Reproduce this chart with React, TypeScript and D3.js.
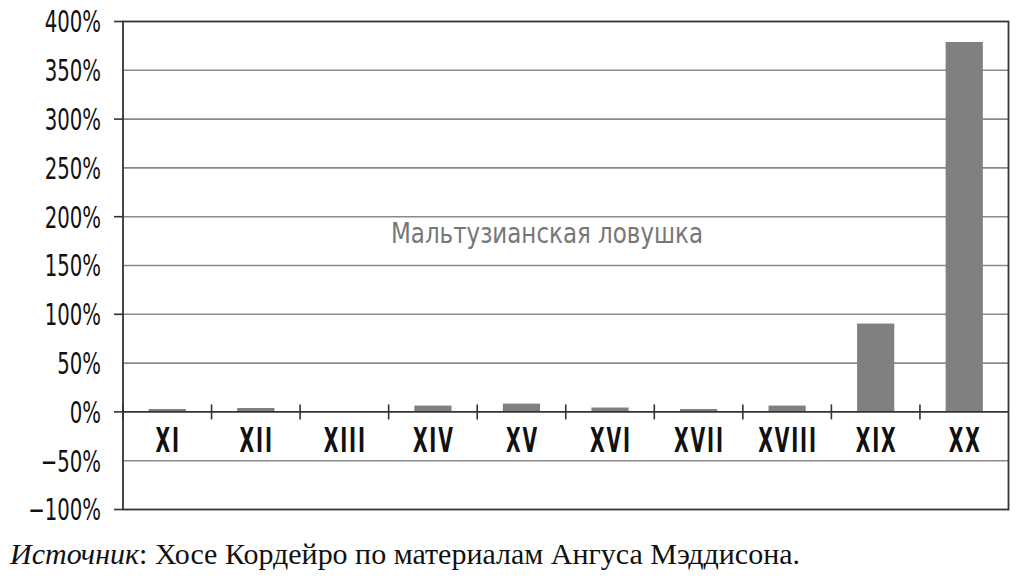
import React, { useEffect, useRef } from 'react';
import * as d3 from 'd3';

const centuries = ['XI', 'XII', 'XIII', 'XIV', 'XV', 'XVI', 'XVII', 'XVIII', 'XIX', 'XX'];
const growth = [3, 4, 0.3, 6.5, 8.5, 4.5, 3, 6.5, 90.5, 379];
const yTicks = [-100, -50, 0, 50, 100, 150, 200, 250, 300, 350, 400];
const annotation = 'Мальтузианская ловушка';
const sourceLabel = 'Источник';
const sourceText = ': Хосе Кордейро по материалам Ангуса Мэддисона.';

const W = 1020;
const H = 581;
const condensed = '"DejaVu Sans Condensed", "DejaVu Sans", sans-serif';

export default function App() {
  const ref = useRef<SVGSVGElement>(null);

  useEffect(() => {
    document.body.style.margin = '0';
    const svg = d3.select(ref.current);
    svg.selectAll('*').remove();

    const x = d3.scaleBand<string>()
      .domain(centuries)
      .range([123, 1008.5])
      .paddingInner(0.58)
      .paddingOuter(0.29);
    const y = d3.scaleLinear().domain([-100, 400]).range([509.5, 21.5]);
    const step = x.step();
    const left = x.range()[0];
    const right = x.range()[1];

    // gridlines
    svg.append('g')
      .selectAll('line')
      .data(yTicks.filter(t => t !== 400 && t !== -100 && t !== 0))
      .join('line')
      .attr('x1', left).attr('x2', right)
      .attr('y1', d => y(d)).attr('y2', d => y(d))
      .attr('stroke', '#8a8a8a')
      .attr('stroke-width', 1.6);

    // bars
    svg.append('g')
      .selectAll('rect')
      .data(centuries)
      .join('rect')
      .attr('x', d => x(d) as number)
      .attr('width', x.bandwidth())
      .attr('y', (d, i) => y(Math.max(0, growth[i])))
      .attr('height', (d, i) => Math.abs(y(growth[i]) - y(0)))
      .attr('fill', '#808080');

    // frame
    svg.append('rect')
      .attr('x', left).attr('y', y(400))
      .attr('width', right - left).attr('height', y(-100) - y(400))
      .attr('fill', 'none')
      .attr('stroke', '#333')
      .attr('stroke-width', 1.8);

    // zero axis with ticks between categories
    svg.append('line')
      .attr('x1', left).attr('x2', right)
      .attr('y1', y(0)).attr('y2', y(0))
      .attr('stroke', '#333')
      .attr('stroke-width', 1.8);
    svg.append('g')
      .selectAll('line')
      .data(d3.range(centuries.length))
      .join('line')
      .attr('x1', i => left + i * step).attr('x2', i => left + i * step)
      .attr('y1', y(0) - 7.5).attr('y2', y(0) + 7.5)
      .attr('stroke', '#333')
      .attr('stroke-width', 1.6);

    // left ticks every 100%
    svg.append('g')
      .selectAll('line')
      .data(yTicks.filter(t => t % 100 === 0))
      .join('line')
      .attr('x1', left - 9).attr('x2', left)
      .attr('y1', d => y(d)).attr('y2', d => y(d))
      .attr('stroke', '#333')
      .attr('stroke-width', 1.6);

    // y labels
    svg.append('g')
      .selectAll('g')
      .data(yTicks)
      .join('g')
      .attr('transform', d => `translate(101, ${y(d)}) scale(0.73, 1)`)
      .append('text')
      .attr('text-anchor', 'end')
      .attr('dy', '0.36em')
      .attr('font-family', condensed)
      .attr('font-size', 30)
      .attr('fill', '#111')
      .text(d => (d < 0 ? `−${Math.abs(d)}%` : `${d}%`));

    // x labels
    svg.append('g')
      .selectAll('g')
      .data(centuries)
      .join('g')
      .attr('transform', d => `translate(${(x(d) as number) + x.bandwidth() / 2}, 451.5) scale(0.62, 1)`)
      .append('text')
      .attr('text-anchor', 'middle')
      .attr('dx', 1.5)
      .attr('font-family', condensed)
      .attr('font-weight', 'bold')
      .attr('font-size', 34)
      .attr('letter-spacing', 3)
      .attr('fill', '#111')
      .text(d => d);

    // annotation
    svg.append('text')
      .attr('x', 391)
      .attr('y', 243)
      .attr('font-family', condensed)
      .attr('font-size', 29)
      .attr('fill', '#777')
      .attr('textLength', 312)
      .attr('lengthAdjust', 'spacingAndGlyphs')
      .text(annotation);

    // source line
    const src = svg.append('text')
      .attr('x', 10)
      .attr('y', 564)
      .attr('font-family', '"Liberation Serif", "DejaVu Serif", serif')
      .attr('font-size', 29)
      .attr('fill', '#111')
      .attr('textLength', 790)
      .attr('lengthAdjust', 'spacingAndGlyphs');
    src.append('tspan').attr('font-style', 'italic').text(sourceLabel);
    src.append('tspan').text(sourceText);
  }, []);

  return <svg ref={ref} width={W} height={H} style={{ display: 'block' }} />;
}
